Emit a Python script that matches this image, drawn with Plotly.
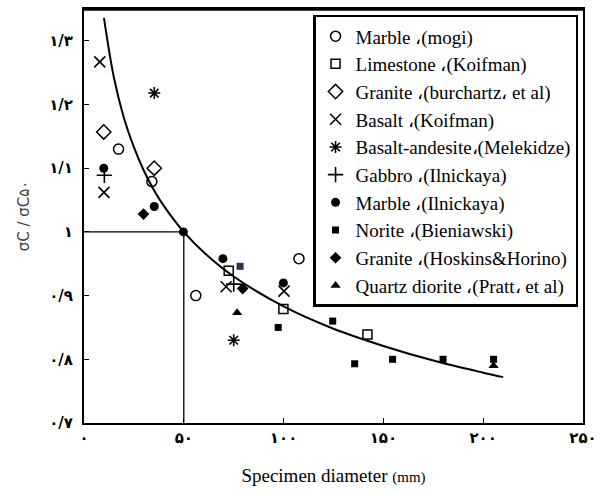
import plotly.graph_objects as go

# ---- data ----
marble_mogi_x = [17.3, 34.0, 56.0, 107.7]
marble_mogi_y = [1.130, 1.079, 0.900, 0.958]

limestone_x = [72.5, 99.9, 142.0]
limestone_y = [0.939, 0.879, 0.839]

granite_burch_x = [9.9, 35.2]
granite_burch_y = [1.157, 1.100]

basalt_x = [7.9, 10.0, 71.2, 100.2]
basalt_y = [1.267, 1.062, 0.914, 0.907]

basalt_and_x = [35.2, 75.0]
basalt_and_y = [1.218, 0.830]

gabbro_x = [10.2, 75.0]
gabbro_y = [1.089, 0.918]

marble_iln_x = [9.9, 35.2, 49.8, 69.6, 99.9]
marble_iln_y = [1.100, 1.040, 1.000, 0.958, 0.920]

norite_x = [97.3, 124.6, 135.6, 154.6, 179.9, 205.2]
norite_y = [0.850, 0.860, 0.793, 0.800, 0.800, 0.800]

granite_hosk_x = [29.8, 79.5]
granite_hosk_y = [1.028, 0.911]

quartz_x = [76.7, 205.2]
quartz_y = [0.873, 0.790]

extra_sq_x = [78.2]
extra_sq_y = [0.946]

curve_x = [10, 15, 20, 25, 30, 35, 40, 50, 60, 75, 100, 125, 150, 175, 200, 210]
curve_y = [1.336, 1.242, 1.179, 1.133, 1.096, 1.066, 1.041, 1.000, 0.968,
           0.930, 0.883, 0.848, 0.821, 0.798, 0.779, 0.772]

x_tickvals = [0, 50, 100, 150, 200, 250]
x_ticktext = ["۰", "۵۰", "۱۰۰", "۱۵۰", "۲۰۰", "۲۵۰"]
y_tickvals = [0.7, 0.8, 0.9, 1.0, 1.1, 1.2, 1.3]
y_ticktext = ["۰/۷", "۰/۸", "۰/۹", "۱", "۱/۱", "۱/۲", "۱/۳"]

series = [
    ("Marble ،(mogi)", marble_mogi_x, marble_mogi_y, "circle-open", 10, 1.5),
    ("Limestone ،(Koifman)", limestone_x, limestone_y, "square-open", 9, 1.5),
    ("Granite ،(burchartz، et al)", granite_burch_x, granite_burch_y, "diamond-open", 11, 1.5),
    ("Basalt ،(Koifman)", basalt_x, basalt_y, "x-thin-open", 11, 1.6),
    ("Basalt-andesite،(Melekidze)", basalt_and_x, basalt_and_y, "asterisk-open", 10, 1.6),
    ("Gabbro ،(Ilnickaya)", gabbro_x, gabbro_y, "cross-thin-open", 11, 1.6),
    ("Marble ،(Ilnickaya)", marble_iln_x, marble_iln_y, "circle", 9, 0),
    ("Norite ،(Bieniawski)", norite_x, norite_y, "square", 7, 0),
    ("Granite ،(Hoskins&Horino)", granite_hosk_x, granite_hosk_y, "diamond", 9, 0),
    ("Quartz diorite ،(Pratt، et al)", quartz_x, quartz_y, "triangle-up", 9, 0),
]

fig = go.Figure()

fig.add_trace(go.Scatter(x=curve_x, y=curve_y, mode="lines",
                         line=dict(color="black", width=2, shape="spline"),
                         showlegend=False, hoverinfo="skip"))

for i, (name, xs, ys, sym, size, lw) in enumerate(series):
    fig.add_trace(go.Scatter(
        x=xs, y=ys, mode="markers", name=name,
        marker=dict(symbol=sym, size=size, color="black",
                    line=dict(color="black", width=lw)),
    ))

fig.add_trace(go.Scatter(x=extra_sq_x, y=extra_sq_y, mode="markers",
                         marker=dict(symbol="square", size=7, color="#1f3552",
                                     line=dict(color="#1f3552", width=0)),
                         showlegend=False))

# reference lines at d=50, ratio=1
fig.add_shape(type="line", x0=0, x1=50, y0=1, y1=1, xref="x", yref="y",
              line=dict(color="black", width=1.3))
fig.add_shape(type="line", x0=50, x1=50, y0=0.7, y1=1, xref="x", yref="y",
              line=dict(color="black", width=1.3))
# thick top frame
fig.add_shape(type="line", x0=0, x1=1, y0=1, y1=1, xref="paper", yref="paper",
              line=dict(color="black", width=3.5))

serif = "Liberation Serif, Times New Roman, serif"

fig.update_layout(
    width=604, height=493,
    margin=dict(l=84, r=17, t=7, b=70),
    paper_bgcolor="white", plot_bgcolor="white",
    font=dict(family=serif, color="black"),
    showlegend=True,
    legend=dict(x=0.459, y=0.986, xanchor="left", yanchor="top",
                bgcolor="white", bordercolor="black", borderwidth=2.5,
                font=dict(family=serif, size=19, color="black"),
                itemwidth=30),
    xaxis=dict(range=[0, 250], tickvals=x_tickvals, ticktext=x_ticktext,
               ticks="inside", ticklen=5, tickcolor="black", tickwidth=1.2,
               showgrid=False, zeroline=False, showline=True, mirror=True,
               linecolor="black", linewidth=2,
               tickfont=dict(family="DejaVu Sans", size=15, color="black", weight="bold"),
               title=dict(text="Specimen diameter <span style='font-size:15px'>(mm)</span>",
                          font=dict(family=serif, size=19, color="black"), standoff=23)),
    yaxis=dict(range=[0.7, 1.35], tickvals=y_tickvals, ticktext=y_ticktext,
               ticks="inside", ticklen=5, tickcolor="black", tickwidth=1.2,
               ticklabelstandoff=6,
               showgrid=False, zeroline=False, showline=True, mirror=True,
               linecolor="black", linewidth=2,
               tickfont=dict(family="DejaVu Sans", size=15, color="black", weight="bold"),
               title=dict(text="σC / σC۵۰",
                          font=dict(family="DejaVu Sans", size=15, color="#444444"), standoff=16)),
)

fig.write_html("out.html")
